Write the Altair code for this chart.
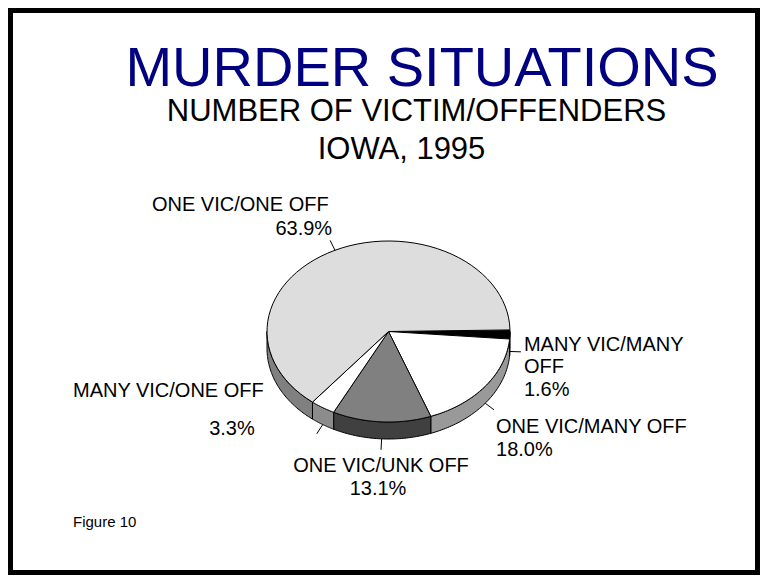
import altair as alt
import pandas as pd

# ---------------- data ----------------
categories = ["MANY VIC/MANY OFF", "ONE VIC/MANY OFF", "ONE VIC/UNK OFF",
              "MANY VIC/ONE OFF", "ONE VIC/ONE OFF"]
percents = [1.6, 18.0, 13.1, 3.3, 63.9]
name_labels = ["MANY VIC/MANY\nOFF", "ONE VIC/MANY OFF", "ONE VIC/UNK OFF",
               "MANY VIC/ONE OFF", "ONE VIC/ONE OFF"]
pct_labels = ["1.6%", "18.0%", "13.1%", "3.3%", "63.9%"]

title_text = "MURDER SITUATIONS"
subtitle_lines = ["NUMBER OF VICTIM/OFFENDERS", "IOWA, 1995"]
footnote = "Figure 10"

# ---------------- style ----------------
top_colors = ["#000000", "#ffffff", "#808080", "#ffffff", "#dddddd"]
side_colors = ["#000000", "#999999", "#404040", "#8c8c8c", "#808080"]
FONT = "Liberation Sans"

W, H = 752, 567          # plot area (page coords 8..760, 8..575)
CX, CY = 388.5, 331.5    # ellipse centre (page coords)
RX, RY = 121.5, 90.5
DEPTH = 17
START = -1.0             # start angle (deg, clockwise from 3 o'clock)
N = 60                   # arc resolution
LEAD = 11                # leader line length

# per-label text offsets from the leader-line end: (align, name_dx, name_dy, pct_dx, pct_dy)
label_layout = {
    "MANY VIC/MANY OFF": ("left", 3, -1, 3, 44),
    "ONE VIC/MANY OFF": ("left", 2, 23, 2, 46.5),
    "ONE VIC/UNK OFF": ("center", 0, 22, -3, 45),
    "MANY VIC/ONE OFF": ("right", -53, -37, -62, 1),
    "ONE VIC/ONE OFF": ("right", -1.5, -29, 2, -5.5),
}

df = pd.DataFrame({
    "category": categories,
    "pct": percents,
    "order": list(range(len(categories))),
    "name": name_labels,
    "pct_label": pct_labels,
})

xs = alt.Scale(domain=[8, 8 + W], range=[0, W], nice=False, zero=False)
ys = alt.Scale(domain=[8, 8 + H], range=[0, H], nice=False, zero=False)

base = (
    alt.Chart(df)
    .transform_joinaggregate(total="sum(pct)")
    .transform_window(cum="sum(pct)", sort=[alt.SortField("order")], frame=[None, 0])
    .transform_calculate(t0=f"{START} + 360 * (datum.cum - datum.pct) / datum.total")
    .transform_calculate(t1=f"{START} + 360 * datum.cum / datum.total")
)

# ---------- side walls ----------
side = (
    base.transform_calculate(a0="max(datum.t0, 0)")
    .transform_calculate(a1="min(datum.t1, 180)")
    .transform_filter("datum.a1 > datum.a0")
    .transform_calculate(seq=f"sequence(0, {2 * N + 3})")
    .transform_flatten(["seq"])
    .transform_calculate(
        j=f"datum.seq <= {N} ? datum.seq : (datum.seq <= {2 * N + 1} ? {2 * N + 1} - datum.seq : 0)")
    .transform_calculate(bot=f"(datum.seq > {N} && datum.seq <= {2 * N + 1}) ? 1 : 0")
    .transform_calculate(tt=f"datum.a0 + (datum.a1 - datum.a0) * datum.j / {N}")
    .transform_calculate(px=f"{CX} + {RX} * cos(datum.tt * PI / 180)")
    .transform_calculate(py=f"{CY} + {RY} * sin(datum.tt * PI / 180) + {DEPTH} * datum.bot")
    .mark_line(stroke="black", strokeWidth=1, strokeJoin="round")
    .encode(
        x=alt.X("px:Q", scale=xs, axis=None),
        y=alt.Y("py:Q", scale=ys, axis=None),
        order=alt.Order("seq:Q"),
        detail="category:N",
        fill=alt.Fill("category:N", scale=alt.Scale(domain=categories, range=side_colors), legend=None),
    )
)

# ---------- top faces ----------
top = (
    base.transform_calculate(seq=f"sequence(0, {N + 3})")
    .transform_flatten(["seq"])
    .transform_calculate(centre=f"(datum.seq == 0 || datum.seq == {N + 2}) ? 1 : 0")
    .transform_calculate(tt=f"datum.t0 + (datum.t1 - datum.t0) * (datum.seq - 1) / {N}")
    .transform_calculate(px=f"datum.centre ? {CX} : {CX} + {RX} * cos(datum.tt * PI / 180)")
    .transform_calculate(py=f"datum.centre ? {CY} : {CY} + {RY} * sin(datum.tt * PI / 180)")
    .mark_line(stroke="black", strokeWidth=1, strokeJoin="round")
    .encode(
        x=alt.X("px:Q", scale=xs, axis=None),
        y=alt.Y("py:Q", scale=ys, axis=None),
        order=alt.Order("seq:Q"),
        detail="category:N",
        fill=alt.Fill("category:N", scale=alt.Scale(domain=categories, range=top_colors), legend=None),
    )
)

# ---------- leader lines ----------
lead_base = (
    base.transform_calculate(tm="(datum.t0 + datum.t1) / 2")
    .transform_calculate(dn=f"sin(datum.tm * PI / 180) > 0 ? {DEPTH} : 0")
    .transform_calculate(lx1=f"{CX} + {RX} * cos(datum.tm * PI / 180)")
    .transform_calculate(ly1=f"{CY} + {RY} * sin(datum.tm * PI / 180) + datum.dn")
    .transform_calculate(lx2=f"datum.lx1 + {LEAD} * cos(datum.tm * PI / 180)")
    .transform_calculate(ly2=f"datum.ly1 + {LEAD} * sin(datum.tm * PI / 180)")
)

leaders = lead_base.mark_rule(color="black", strokeWidth=1).encode(
    x=alt.X("lx1:Q", scale=xs, axis=None),
    y=alt.Y("ly1:Q", scale=ys, axis=None),
    x2="lx2:Q",
    y2="ly2:Q",
)

label_layers = []
for cat in categories:
    align, ndx, ndy, pdx, pdy = label_layout[cat]
    sel = lead_base.transform_filter(alt.datum.category == cat)
    label_layers.append(
        sel.mark_text(align=align, baseline="alphabetic", dx=ndx, dy=ndy, font=FONT,
                      fontSize=20, lineBreak="\n", lineHeight=22.6, color="black")
        .encode(x=alt.X("lx2:Q", scale=xs, axis=None), y=alt.Y("ly2:Q", scale=ys, axis=None),
                text="name:N")
    )
    label_layers.append(
        sel.mark_text(align=align, baseline="alphabetic", dx=pdx, dy=pdy, font=FONT,
                      fontSize=20, color="black")
        .encode(x=alt.X("lx2:Q", scale=xs, axis=None), y=alt.Y("ly2:Q", scale=ys, axis=None),
                text="pct_label:N")
    )

# ---------- titles ----------
one = pd.DataFrame({"k": [0]})
title = alt.Chart(one).mark_text(text=title_text, font=FONT, fontSize=56, color="#000080",
                                 align="center", baseline="alphabetic").encode(
    x=alt.value(414), y=alt.value(78))
sub1 = alt.Chart(one).mark_text(text=subtitle_lines[0], font=FONT, fontSize=31, color="black",
                                align="center", baseline="alphabetic").encode(
    x=alt.value(408.5), y=alt.value(113))
sub2 = alt.Chart(one).mark_text(text=subtitle_lines[1], font=FONT, fontSize=31, color="black",
                                align="center", baseline="alphabetic").encode(
    x=alt.value(393.5), y=alt.value(151))
foot = alt.Chart(one).mark_text(text=footnote, font=FONT, fontSize=15, color="black",
                                align="left", baseline="alphabetic").encode(
    x=alt.value(65), y=alt.value(519))

frame = alt.Chart(one).mark_rect(fillOpacity=0, stroke="black", strokeWidth=5).encode(
    x=alt.value(2.5), x2=alt.value(W - 2.5), y=alt.value(2.5), y2=alt.value(H - 2.5))

chart = alt.layer(side, top, leaders, *label_layers, title, sub1, sub2, foot, frame).resolve_scale(
    fill="independent"
).properties(
    width=W, height=H, padding=0, autosize=alt.AutoSizeParams(type="none"), background="white"
).configure_view(stroke=None)

chart.save("out.html", embed_options={"renderer": "svg", "actions": False})
